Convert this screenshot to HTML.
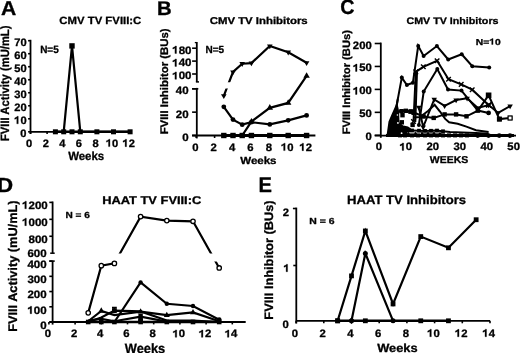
<!DOCTYPE html>
<html><head><meta charset="utf-8"><style>
html,body{margin:0;padding:0;background:#fff;overflow:hidden;}
svg{display:block;filter:grayscale(1);}
text{font-family:"Liberation Sans",sans-serif;font-weight:bold;fill:#000;stroke:#000;stroke-width:0.3px;stroke-linejoin:round;text-rendering:geometricPrecision;}
.h{fill-opacity:0;stroke-opacity:0;}
.one{fill:#000;stroke:#000;stroke-width:0.3px;stroke-linejoin:round;vector-effect:non-scaling-stroke;}
</style></head><body>
<svg width="520" height="353" viewBox="0 0 520 353" stroke="#000" stroke-linecap="butt">
<rect width="520" height="353" fill="#fff" stroke="none"/>
<text transform="translate(0.91,14.70) scale(1.051,1)" font-size="20.12">A</text>
<text transform="translate(59.35,24.10) scale(1.084,1)" font-size="10.47">CMV TV FVIII:C</text>
<text transform="translate(40.13,53.00) scale(0.952,1)" font-size="10.47">N=5</text>
<line x1="30.50" y1="39.80" x2="30.50" y2="134.00" stroke-width="1.8"/>
<line x1="30.50" y1="131.80" x2="132.00" y2="131.80" stroke-width="1.8"/>
<line x1="28.10" y1="131.80" x2="30.50" y2="131.80" stroke-width="1.6"/>
<text transform="translate(20.37,136.81) scale(1.030,1)" font-size="10.80">0</text>
<line x1="28.10" y1="118.79" x2="30.50" y2="118.79" stroke-width="1.6"/>
<g transform="translate(14.18,123.80) scale(1.030,1)"><text font-size="10.80"><tspan class="h">1</tspan>0</text><path d="M754,0L479,0L479,1050C380,960 250,890 98,845L98,1095C300,1160 480,1290 560,1409L754,1409Z" transform="translate(0.00,0) scale(0.00527,-0.00527)" class="one"/></g>
<line x1="28.10" y1="105.77" x2="30.50" y2="105.77" stroke-width="1.6"/>
<text transform="translate(14.20,110.78) scale(1.030,1)" font-size="10.80">20</text>
<line x1="28.10" y1="92.76" x2="30.50" y2="92.76" stroke-width="1.6"/>
<text transform="translate(14.20,97.76) scale(1.030,1)" font-size="10.80">30</text>
<line x1="28.10" y1="79.74" x2="30.50" y2="79.74" stroke-width="1.6"/>
<text transform="translate(14.20,84.76) scale(1.030,1)" font-size="10.80">40</text>
<line x1="28.10" y1="66.73" x2="30.50" y2="66.73" stroke-width="1.6"/>
<text transform="translate(14.20,71.74) scale(1.030,1)" font-size="10.80">50</text>
<line x1="28.10" y1="53.71" x2="30.50" y2="53.71" stroke-width="1.6"/>
<text transform="translate(14.20,58.73) scale(1.030,1)" font-size="10.80">60</text>
<line x1="28.10" y1="40.70" x2="30.50" y2="40.70" stroke-width="1.6"/>
<text transform="translate(14.20,45.71) scale(1.030,1)" font-size="10.80">70</text>
<line x1="30.50" y1="131.80" x2="30.50" y2="134.00" stroke-width="1.6"/>
<text transform="translate(26.01,146.61) scale(1.030,1)" font-size="10.80">0</text>
<line x1="47.10" y1="131.80" x2="47.10" y2="134.00" stroke-width="1.6"/>
<text transform="translate(42.64,146.67) scale(1.030,1)" font-size="10.80">2</text>
<line x1="63.70" y1="131.80" x2="63.70" y2="134.00" stroke-width="1.6"/>
<text transform="translate(59.16,146.61) scale(1.030,1)" font-size="10.80">4</text>
<line x1="80.30" y1="131.80" x2="80.30" y2="134.00" stroke-width="1.6"/>
<text transform="translate(75.80,146.61) scale(1.030,1)" font-size="10.80">6</text>
<line x1="96.90" y1="131.80" x2="96.90" y2="134.00" stroke-width="1.6"/>
<text transform="translate(92.40,146.61) scale(1.030,1)" font-size="10.80">8</text>
<line x1="113.50" y1="131.80" x2="113.50" y2="134.00" stroke-width="1.6"/>
<g transform="translate(105.88,146.61) scale(1.030,1)"><text font-size="10.80"><tspan class="h">1</tspan>0</text><path d="M754,0L479,0L479,1050C380,960 250,890 98,845L98,1095C300,1160 480,1290 560,1409L754,1409Z" transform="translate(0.00,0) scale(0.00527,-0.00527)" class="one"/></g>
<line x1="130.10" y1="131.80" x2="130.10" y2="134.00" stroke-width="1.6"/>
<g transform="translate(122.48,146.67) scale(1.030,1)"><text font-size="10.80"><tspan class="h">1</tspan>2</text><path d="M754,0L479,0L479,1050C380,960 250,890 98,845L98,1095C300,1160 480,1290 560,1409L754,1409Z" transform="translate(0.00,0) scale(0.00527,-0.00527)" class="one"/></g>
<text transform="translate(68.17,160.40) scale(0.964,1)" font-size="11.86">Weeks</text>
<text transform="translate(9.00,141.06) rotate(-90) scale(0.930,1)" font-size="12.07">FVIII Activity (mU/mL)</text>
<polyline points="55.40,131.80 63.70,131.80 72.00,45.91 80.30,131.80 96.90,131.80 113.50,131.80 130.10,131.80" fill="none" stroke-width="2.2"/>
<polyline points="55.40,131.80 130.10,131.80" fill="none" stroke-width="2.4"/>
<rect x="52.90" y="129.30" width="5.00" height="5.00" fill="#000" stroke="none"/>
<rect x="61.20" y="129.30" width="5.00" height="5.00" fill="#000" stroke="none"/>
<rect x="69.50" y="129.30" width="5.00" height="5.00" fill="#000" stroke="none"/>
<rect x="77.80" y="129.30" width="5.00" height="5.00" fill="#000" stroke="none"/>
<rect x="94.40" y="129.30" width="5.00" height="5.00" fill="#000" stroke="none"/>
<rect x="111.00" y="129.30" width="5.00" height="5.00" fill="#000" stroke="none"/>
<rect x="127.60" y="129.30" width="5.00" height="5.00" fill="#000" stroke="none"/>
<rect x="69.30" y="43.21" width="5.40" height="5.40" fill="#000" stroke="none"/>
<text transform="translate(157.03,14.70) scale(1.031,1)" font-size="19.71">B</text>
<text transform="translate(209.74,24.10) scale(1.146,1)" font-size="9.93">CMV TV Inhibitors</text>
<text transform="translate(205.43,53.40) scale(0.966,1)" font-size="10.33">N=5</text>
<line x1="196.80" y1="42.00" x2="196.80" y2="82.00" stroke-width="1.8"/>
<line x1="195.90" y1="81.90" x2="199.00" y2="81.90" stroke-width="1.5"/>
<line x1="194.80" y1="42.60" x2="196.80" y2="42.60" stroke-width="1.3"/>
<line x1="196.80" y1="87.90" x2="196.80" y2="138.40" stroke-width="1.8"/>
<line x1="192.10" y1="88.80" x2="198.30" y2="88.80" stroke-width="1.6"/>
<line x1="192.10" y1="135.50" x2="315.40" y2="135.50" stroke-width="1.8"/>
<line x1="192.10" y1="48.20" x2="196.80" y2="48.20" stroke-width="1.6"/>
<g transform="translate(172.23,53.51) scale(1.068,1)"><text font-size="10.80"><tspan class="h">1</tspan>80</text><path d="M754,0L479,0L479,1050C380,960 250,890 98,845L98,1095C300,1160 480,1290 560,1409L754,1409Z" transform="translate(0.00,0) scale(0.00527,-0.00527)" class="one"/></g>
<line x1="192.10" y1="61.10" x2="196.80" y2="61.10" stroke-width="1.6"/>
<g transform="translate(172.23,66.41) scale(1.068,1)"><text font-size="10.80"><tspan class="h">1</tspan>40</text><path d="M754,0L479,0L479,1050C380,960 250,890 98,845L98,1095C300,1160 480,1290 560,1409L754,1409Z" transform="translate(0.00,0) scale(0.00527,-0.00527)" class="one"/></g>
<line x1="192.10" y1="74.00" x2="196.80" y2="74.00" stroke-width="1.6"/>
<g transform="translate(172.23,79.31) scale(1.068,1)"><text font-size="10.80"><tspan class="h">1</tspan>00</text><path d="M754,0L479,0L479,1050C380,960 250,890 98,845L98,1095C300,1160 480,1290 560,1409L754,1409Z" transform="translate(0.00,0) scale(0.00527,-0.00527)" class="one"/></g>
<line x1="192.10" y1="88.80" x2="196.80" y2="88.80" stroke-width="1.6"/>
<text transform="translate(175.76,94.31) scale(1.068,1)" font-size="10.80">40</text>
<line x1="192.10" y1="112.15" x2="196.80" y2="112.15" stroke-width="1.6"/>
<text transform="translate(175.76,117.66) scale(1.068,1)" font-size="10.80">20</text>
<line x1="192.10" y1="135.50" x2="196.80" y2="135.50" stroke-width="1.6"/>
<text transform="translate(182.16,141.01) scale(1.068,1)" font-size="10.80">0</text>
<line x1="196.20" y1="135.50" x2="196.20" y2="138.00" stroke-width="1.6"/>
<text transform="translate(192.16,150.61) scale(1.049,1)" font-size="10.80">0</text>
<line x1="214.60" y1="135.50" x2="214.60" y2="138.00" stroke-width="1.6"/>
<text transform="translate(210.58,150.67) scale(1.049,1)" font-size="10.80">2</text>
<line x1="233.00" y1="135.50" x2="233.00" y2="138.00" stroke-width="1.6"/>
<text transform="translate(228.90,150.61) scale(1.049,1)" font-size="10.80">4</text>
<line x1="251.40" y1="135.50" x2="251.40" y2="138.00" stroke-width="1.6"/>
<text transform="translate(247.34,150.61) scale(1.049,1)" font-size="10.80">6</text>
<line x1="269.80" y1="135.50" x2="269.80" y2="138.00" stroke-width="1.6"/>
<text transform="translate(265.74,150.61) scale(1.049,1)" font-size="10.80">8</text>
<line x1="288.20" y1="135.50" x2="288.20" y2="138.00" stroke-width="1.6"/>
<g transform="translate(280.96,150.61) scale(1.049,1)"><text font-size="10.80"><tspan class="h">1</tspan>0</text><path d="M754,0L479,0L479,1050C380,960 250,890 98,845L98,1095C300,1160 480,1290 560,1409L754,1409Z" transform="translate(0.00,0) scale(0.00527,-0.00527)" class="one"/></g>
<line x1="306.60" y1="135.50" x2="306.60" y2="138.00" stroke-width="1.6"/>
<g transform="translate(299.36,150.67) scale(1.049,1)"><text font-size="10.80"><tspan class="h">1</tspan>2</text><path d="M754,0L479,0L479,1050C380,960 250,890 98,845L98,1095C300,1160 480,1290 560,1409L754,1409Z" transform="translate(0.00,0) scale(0.00527,-0.00527)" class="one"/></g>
<text transform="translate(240.22,163.50) scale(1.115,1)" font-size="10.34">Weeks</text>
<text transform="translate(168.20,134.37) rotate(-90) scale(1.028,1)" font-size="11.05">FVIII Inhibitor (BUs)</text>
<clipPath id="gapB"><rect x="199" y="0" width="130" height="82.3"/><rect x="199" y="88.6" width="130" height="80"/></clipPath>
<polyline points="223.80,95.80 233.00,72.00 242.20,63.70 251.40,63.10 269.80,46.00 288.20,52.20 306.60,62.80" fill="none" stroke-width="2.2" clip-path="url(#gapB)"/>
<polygon points="221.00,94.18 226.60,94.18 223.80,99.05" fill="#000" stroke="none"/>
<polygon points="230.20,70.38 235.80,70.38 233.00,75.25" fill="#000" stroke="none"/>
<polygon points="239.40,62.08 245.00,62.08 242.20,66.95" fill="#000" stroke="none"/>
<polygon points="248.60,61.48 254.20,61.48 251.40,66.35" fill="#000" stroke="none"/>
<polygon points="267.00,44.38 272.60,44.38 269.80,49.25" fill="#000" stroke="none"/>
<polygon points="285.40,50.58 291.00,50.58 288.20,55.45" fill="#000" stroke="none"/>
<polygon points="303.80,61.18 309.40,61.18 306.60,66.05" fill="#000" stroke="none"/>
<polyline points="223.80,135.50 233.00,135.50 242.20,135.50 251.40,121.61 269.80,107.83 288.20,102.93 306.60,75.96" fill="none" stroke-width="2.2"/>
<polygon points="248.20,123.46 254.60,123.46 251.40,117.89" fill="#000" stroke="none"/>
<polygon points="266.60,109.69 273.00,109.69 269.80,104.12" fill="#000" stroke="none"/>
<polygon points="285.00,104.78 291.40,104.78 288.20,99.21" fill="#000" stroke="none"/>
<polygon points="303.40,77.81 309.80,77.81 306.60,72.25" fill="#000" stroke="none"/>
<polyline points="223.80,106.78 233.00,119.62 242.20,124.64 251.40,122.19 269.80,124.41 288.20,120.32 306.60,115.42" fill="none" stroke-width="2.2"/>
<circle cx="223.80" cy="106.78" r="2.40" fill="#000" stroke="none"/>
<circle cx="233.00" cy="119.62" r="2.40" fill="#000" stroke="none"/>
<circle cx="242.20" cy="124.64" r="2.40" fill="#000" stroke="none"/>
<circle cx="251.40" cy="122.19" r="2.40" fill="#000" stroke="none"/>
<circle cx="269.80" cy="124.41" r="2.40" fill="#000" stroke="none"/>
<circle cx="288.20" cy="120.32" r="2.40" fill="#000" stroke="none"/>
<circle cx="306.60" cy="115.42" r="2.40" fill="#000" stroke="none"/>
<polyline points="223.80,135.50 306.60,135.50" fill="none" stroke-width="3.0"/>
<rect x="221.10" y="132.80" width="5.40" height="5.40" fill="#000" stroke="none"/>
<rect x="230.30" y="132.80" width="5.40" height="5.40" fill="#000" stroke="none"/>
<rect x="239.50" y="132.80" width="5.40" height="5.40" fill="#000" stroke="none"/>
<rect x="248.70" y="132.80" width="5.40" height="5.40" fill="#000" stroke="none"/>
<rect x="267.10" y="132.80" width="5.40" height="5.40" fill="#000" stroke="none"/>
<rect x="285.50" y="132.80" width="5.40" height="5.40" fill="#000" stroke="none"/>
<rect x="303.90" y="132.80" width="5.40" height="5.40" fill="#000" stroke="none"/>
<text transform="translate(340.31,14.40) scale(0.954,1)" font-size="20.65">C</text>
<text transform="translate(406.47,23.80) scale(1.123,1)" font-size="9.52">CMV TV Inhibitors</text>
<g transform="translate(475.80,44.50) scale(1.198,1)"><text font-size="8.60">N=<tspan class="h">1</tspan>0</text><path d="M754,0L479,0L479,1050C380,960 250,890 98,845L98,1095C300,1160 480,1290 560,1409L754,1409Z" transform="translate(11.24,0) scale(0.00420,-0.00420)" class="one"/></g>
<line x1="380.80" y1="42.60" x2="380.80" y2="137.80" stroke-width="1.8"/>
<line x1="374.70" y1="135.60" x2="516.00" y2="135.60" stroke-width="1.8"/>
<line x1="374.70" y1="135.30" x2="380.80" y2="135.30" stroke-width="1.6"/>
<text transform="translate(365.47,140.31) scale(1.049,1)" font-size="10.80">0</text>
<line x1="374.70" y1="112.35" x2="380.80" y2="112.35" stroke-width="1.6"/>
<text transform="translate(359.18,117.36) scale(1.049,1)" font-size="10.80">50</text>
<line x1="374.70" y1="89.40" x2="380.80" y2="89.40" stroke-width="1.6"/>
<g transform="translate(352.86,94.41) scale(1.049,1)"><text font-size="10.80"><tspan class="h">1</tspan>00</text><path d="M754,0L479,0L479,1050C380,960 250,890 98,845L98,1095C300,1160 480,1290 560,1409L754,1409Z" transform="translate(0.00,0) scale(0.00527,-0.00527)" class="one"/></g>
<line x1="374.70" y1="66.45" x2="380.80" y2="66.45" stroke-width="1.6"/>
<g transform="translate(352.86,71.46) scale(1.049,1)"><text font-size="10.80"><tspan class="h">1</tspan>50</text><path d="M754,0L479,0L479,1050C380,960 250,890 98,845L98,1095C300,1160 480,1290 560,1409L754,1409Z" transform="translate(0.00,0) scale(0.00527,-0.00527)" class="one"/></g>
<line x1="374.70" y1="43.50" x2="380.80" y2="43.50" stroke-width="1.6"/>
<text transform="translate(352.86,48.51) scale(1.049,1)" font-size="10.80">200</text>
<text transform="translate(375.76,150.41) scale(1.049,1)" font-size="10.80">0</text>
<g transform="translate(399.50,150.41) scale(1.049,1)"><text font-size="10.80"><tspan class="h">1</tspan>0</text><path d="M754,0L479,0L479,1050C380,960 250,890 98,845L98,1095C300,1160 480,1290 560,1409L754,1409Z" transform="translate(0.00,0) scale(0.00527,-0.00527)" class="one"/></g>
<text transform="translate(426.52,150.41) scale(1.049,1)" font-size="10.80">20</text>
<text transform="translate(453.53,150.40) scale(1.049,1)" font-size="10.80">30</text>
<text transform="translate(480.51,150.41) scale(1.049,1)" font-size="10.80">40</text>
<text transform="translate(507.35,150.41) scale(1.049,1)" font-size="10.80">50</text>
<text transform="translate(429.77,162.70) scale(1.062,1)" font-size="9.89">WEEKS</text>
<text transform="translate(350.40,134.36) rotate(-90) scale(1.039,1)" font-size="10.76">FVIII Inhibitor (BUs)</text>
<polyline points="395.30,112.60 401.80,77.60 406.90,85.00 412.90,82.70 418.20,45.90 423.60,56.00 436.90,46.00 448.20,59.50 461.70,54.30 472.30,66.20 489.20,67.40" fill="none" stroke-width="2.0"/>
<circle cx="395.30" cy="112.60" r="2.00" fill="#000" stroke="none"/>
<circle cx="401.80" cy="77.60" r="2.00" fill="#000" stroke="none"/>
<circle cx="406.90" cy="85.00" r="2.00" fill="#000" stroke="none"/>
<circle cx="412.90" cy="82.70" r="2.00" fill="#000" stroke="none"/>
<circle cx="418.20" cy="45.90" r="2.00" fill="#000" stroke="none"/>
<circle cx="423.60" cy="56.00" r="2.00" fill="#000" stroke="none"/>
<circle cx="436.90" cy="46.00" r="2.00" fill="#000" stroke="none"/>
<circle cx="448.20" cy="59.50" r="2.00" fill="#000" stroke="none"/>
<circle cx="461.70" cy="54.30" r="2.00" fill="#000" stroke="none"/>
<circle cx="472.30" cy="66.20" r="2.00" fill="#000" stroke="none"/>
<circle cx="489.20" cy="67.40" r="2.00" fill="#000" stroke="none"/>
<polyline points="413.50,121.50 415.80,71.90 423.30,66.80 437.10,60.80 448.50,79.30 461.20,84.40 472.20,89.70 488.60,105.00" fill="none" stroke-width="2.0"/>
<path d="M411.20,119.20L415.80,123.80M415.80,119.20L411.20,123.80" stroke-width="1.4" fill="none"/>
<path d="M413.50,69.60L418.10,74.20M418.10,69.60L413.50,74.20" stroke-width="1.4" fill="none"/>
<path d="M421.00,64.50L425.60,69.10M425.60,64.50L421.00,69.10" stroke-width="1.4" fill="none"/>
<path d="M434.80,58.50L439.40,63.10M439.40,58.50L434.80,63.10" stroke-width="1.4" fill="none"/>
<path d="M446.20,77.00L450.80,81.60M450.80,77.00L446.20,81.60" stroke-width="1.4" fill="none"/>
<path d="M458.90,82.10L463.50,86.70M463.50,82.10L458.90,86.70" stroke-width="1.4" fill="none"/>
<path d="M469.90,87.40L474.50,92.00M474.50,87.40L469.90,92.00" stroke-width="1.4" fill="none"/>
<path d="M486.30,102.70L490.90,107.30M490.90,102.70L486.30,107.30" stroke-width="1.4" fill="none"/>
<polyline points="415.30,122.00 417.00,71.90" fill="none" stroke-width="2.0"/>
<polyline points="418.90,125.00 423.70,91.50 437.30,69.00 448.00,89.50 461.50,90.60 477.90,110.60 488.60,112.90" fill="none" stroke-width="2.0"/>
<circle cx="418.90" cy="125.00" r="2.00" fill="#000" stroke="none"/>
<circle cx="423.70" cy="91.50" r="2.00" fill="#000" stroke="none"/>
<circle cx="437.30" cy="69.00" r="2.00" fill="#000" stroke="none"/>
<circle cx="448.00" cy="89.50" r="2.00" fill="#000" stroke="none"/>
<circle cx="461.50" cy="90.60" r="2.00" fill="#000" stroke="none"/>
<circle cx="477.90" cy="110.60" r="2.00" fill="#000" stroke="none"/>
<circle cx="488.60" cy="112.90" r="2.00" fill="#000" stroke="none"/>
<polyline points="411.30,111.50 423.60,116.50 433.70,117.90 444.60,114.40 456.10,114.40 466.50,116.30 477.90,110.60 488.60,95.30 499.40,119.10 510.10,118.00" fill="none" stroke-width="2.0"/>
<rect x="409.10" y="109.30" width="4.40" height="4.40" fill="#000" stroke="none"/>
<rect x="421.40" y="114.30" width="4.40" height="4.40" fill="#000" stroke="none"/>
<rect x="431.50" y="115.70" width="4.40" height="4.40" fill="#000" stroke="none"/>
<rect x="442.40" y="112.20" width="4.40" height="4.40" fill="#000" stroke="none"/>
<rect x="453.90" y="112.20" width="4.40" height="4.40" fill="#000" stroke="none"/>
<rect x="464.30" y="114.10" width="4.40" height="4.40" fill="#000" stroke="none"/>
<rect x="475.70" y="108.40" width="4.40" height="4.40" fill="#000" stroke="none"/>
<rect x="486.40" y="93.10" width="4.40" height="4.40" fill="#000" stroke="none"/>
<rect x="497.20" y="116.90" width="4.40" height="4.40" fill="#000" stroke="none"/>
<rect x="507.90" y="115.80" width="4.40" height="4.40" fill="#000" stroke="none"/>
<polyline points="418.80,107.40 423.20,127.00 434.20,99.40 444.60,105.80 456.10,100.00 467.10,98.30 477.90,108.00 488.60,105.00 498.20,112.90 510.10,106.10" fill="none" stroke-width="2.0"/>
<polygon points="416.05,105.81 421.55,105.81 418.80,110.59" fill="#000" stroke="none"/>
<polygon points="420.45,125.41 425.95,125.41 423.20,130.19" fill="#000" stroke="none"/>
<polygon points="431.45,97.81 436.95,97.81 434.20,102.59" fill="#000" stroke="none"/>
<polygon points="441.85,104.20 447.35,104.20 444.60,108.99" fill="#000" stroke="none"/>
<polygon points="453.35,98.41 458.85,98.41 456.10,103.19" fill="#000" stroke="none"/>
<polygon points="464.35,96.70 469.85,96.70 467.10,101.49" fill="#000" stroke="none"/>
<polygon points="475.15,106.41 480.65,106.41 477.90,111.19" fill="#000" stroke="none"/>
<polygon points="485.85,103.41 491.35,103.41 488.60,108.19" fill="#000" stroke="none"/>
<polygon points="495.45,111.31 500.95,111.31 498.20,116.09" fill="#000" stroke="none"/>
<polygon points="507.35,104.50 512.85,104.50 510.10,109.29" fill="#000" stroke="none"/>
<polyline points="414.00,117.50 420.00,117.00 428.00,111.00 434.60,104.80 440.00,111.50 445.20,118.90 449.10,122.30 457.70,123.70 466.40,126.60 476.00,130.20 488.60,132.00" fill="none" stroke-width="2.0"/>
<polyline points="398.00,130.40 412.00,130.50 425.00,130.90 436.00,130.60 450.00,131.90 462.00,132.40 476.00,132.90 488.60,133.80" fill="none" stroke-width="2.0"/>
<polyline points="386.00,135.40 514.00,135.40" fill="none" stroke-width="3.0"/>
<rect x="398.00" y="133.40" width="4.00" height="4.00" fill="#000" stroke="none"/>
<rect x="403.00" y="133.40" width="4.00" height="4.00" fill="#000" stroke="none"/>
<rect x="410.00" y="133.40" width="4.00" height="4.00" fill="#000" stroke="none"/>
<rect x="416.00" y="133.40" width="4.00" height="4.00" fill="#000" stroke="none"/>
<rect x="423.00" y="133.40" width="4.00" height="4.00" fill="#000" stroke="none"/>
<rect x="429.00" y="133.40" width="4.00" height="4.00" fill="#000" stroke="none"/>
<rect x="435.00" y="133.40" width="4.00" height="4.00" fill="#000" stroke="none"/>
<rect x="441.00" y="133.40" width="4.00" height="4.00" fill="#000" stroke="none"/>
<rect x="447.00" y="133.40" width="4.00" height="4.00" fill="#000" stroke="none"/>
<rect x="453.00" y="133.40" width="4.00" height="4.00" fill="#000" stroke="none"/>
<rect x="459.00" y="133.40" width="4.00" height="4.00" fill="#000" stroke="none"/>
<rect x="465.00" y="133.40" width="4.00" height="4.00" fill="#000" stroke="none"/>
<circle cx="477.70" cy="135.60" r="2.30" fill="#000" stroke="none"/>
<circle cx="488.50" cy="135.60" r="2.30" fill="#000" stroke="none"/>
<circle cx="499.20" cy="135.60" r="2.30" fill="#000" stroke="none"/>
<circle cx="510.00" cy="135.60" r="2.30" fill="#000" stroke="none"/>
<rect x="403.10" y="128.60" width="3.80" height="3.80" fill="#000" stroke="none"/>
<rect x="410.10" y="128.60" width="3.80" height="3.80" fill="#000" stroke="none"/>
<rect x="417.10" y="128.80" width="3.80" height="3.80" fill="#000" stroke="none"/>
<rect x="423.10" y="129.00" width="3.80" height="3.80" fill="#000" stroke="none"/>
<rect x="429.10" y="128.90" width="3.80" height="3.80" fill="#000" stroke="none"/>
<rect x="435.10" y="128.70" width="3.80" height="3.80" fill="#000" stroke="none"/>
<rect x="441.10" y="129.40" width="3.80" height="3.80" fill="#000" stroke="none"/>
<circle cx="408.50" cy="133.20" r="1.30" fill="#000" stroke="none"/>
<circle cx="415.50" cy="133.20" r="1.30" fill="#000" stroke="none"/>
<circle cx="422.00" cy="133.40" r="1.30" fill="#000" stroke="none"/>
<circle cx="428.00" cy="133.40" r="1.30" fill="#000" stroke="none"/>
<circle cx="434.00" cy="133.30" r="1.30" fill="#000" stroke="none"/>
<circle cx="440.00" cy="133.60" r="1.30" fill="#000" stroke="none"/>
<polygon points="403.5,125.5 408,126.5 411,128.5 411,132 403.5,132" fill="#000" stroke="none"/>
<rect x="496.90" y="116.60" width="5.00" height="5.00" fill="#000" stroke="none"/>
<rect x="508.10" y="116.00" width="4.00" height="4.00" fill="#fff" stroke-width="1.2"/>
<rect x="485.80" y="92.50" width="5.60" height="5.60" fill="#000" stroke="none"/>
<circle cx="488.60" cy="112.90" r="2.30" fill="#000" stroke="none"/>
<path d="M486.00,102.40L491.20,107.60M491.20,102.40L486.00,107.60" stroke-width="1.4" fill="none"/>
<polygon points="386.3,137 388.5,121.5 391.7,114 394.4,108 396,104.3 397.6,104.3 398.8,109.5 399.2,114 399.5,122.4 403.5,125.8 407,128.5 408,137" fill="#000" stroke="none"/>
<line x1="396.8" y1="105" x2="397.8" y2="99" stroke-width="2"/>
<polyline points="398.50,111.50 405.50,110.50 410.50,111.80 414.50,112.50" fill="none" stroke-width="2.4"/>
<rect x="399.30" y="109.00" width="4.40" height="4.40" fill="#000" stroke="none"/>
<rect x="403.60" y="108.60" width="4.40" height="4.40" fill="#000" stroke="none"/>
<rect x="408.20" y="109.40" width="4.40" height="4.40" fill="#000" stroke="none"/>
<rect x="411.40" y="110.60" width="4.40" height="4.40" fill="#000" stroke="none"/>
<rect x="400.30" y="113.00" width="4.40" height="4.40" fill="#000" stroke="none"/>
<rect x="399.60" y="120.10" width="4.40" height="4.40" fill="#000" stroke="none"/>
<rect x="410.40" y="122.70" width="4.40" height="4.40" fill="#000" stroke="none"/>
<circle cx="397.4" cy="115" r="0.8" fill="#fff" stroke="none"/>
<circle cx="397.9" cy="122.9" r="0.9" fill="#fff" stroke="none"/>
<circle cx="401.6" cy="133.2" r="0.9" fill="#fff" stroke="none"/>
<text transform="translate(-3.11,191.70) scale(1.091,1)" font-size="20.51">D</text>
<text transform="translate(102.13,203.70) scale(1.152,1)" font-size="11.18">HAAT TV FVIII:C</text>
<text transform="translate(65.52,217.70) scale(1.137,1)" font-size="8.89">N = 6</text>
<line x1="52.60" y1="201.50" x2="52.60" y2="253.20" stroke-width="1.8"/>
<line x1="50.20" y1="253.20" x2="54.70" y2="253.20" stroke-width="1.5"/>
<line x1="52.60" y1="261.10" x2="52.60" y2="324.60" stroke-width="1.8"/>
<line x1="49.30" y1="261.10" x2="54.70" y2="261.10" stroke-width="1.6"/>
<line x1="49.30" y1="322.00" x2="245.70" y2="322.00" stroke-width="1.8"/>
<line x1="49.30" y1="202.40" x2="52.60" y2="202.40" stroke-width="1.6"/>
<g transform="translate(22.11,208.71) scale(1.068,1)"><text font-size="10.80"><tspan class="h">1</tspan>200</text><path d="M754,0L479,0L479,1050C380,960 250,890 98,845L98,1095C300,1160 480,1290 560,1409L754,1409Z" transform="translate(0.00,0) scale(0.00527,-0.00527)" class="one"/></g>
<line x1="49.30" y1="219.33" x2="52.60" y2="219.33" stroke-width="1.6"/>
<g transform="translate(22.11,225.65) scale(1.068,1)"><text font-size="10.80"><tspan class="h">1</tspan>000</text><path d="M754,0L479,0L479,1050C380,960 250,890 98,845L98,1095C300,1160 480,1290 560,1409L754,1409Z" transform="translate(0.00,0) scale(0.00527,-0.00527)" class="one"/></g>
<line x1="49.30" y1="236.27" x2="52.60" y2="236.27" stroke-width="1.6"/>
<text transform="translate(28.53,242.58) scale(1.068,1)" font-size="10.80">800</text>
<text transform="translate(27.43,257.41) scale(1.068,1)" font-size="10.80">600</text>
<line x1="49.30" y1="261.10" x2="52.60" y2="261.10" stroke-width="1.6"/>
<text transform="translate(27.43,268.01) scale(1.068,1)" font-size="10.80">400</text>
<line x1="49.30" y1="276.33" x2="52.60" y2="276.33" stroke-width="1.6"/>
<text transform="translate(27.43,283.22) scale(1.068,1)" font-size="10.80">300</text>
<line x1="49.30" y1="291.55" x2="52.60" y2="291.55" stroke-width="1.6"/>
<text transform="translate(27.43,298.46) scale(1.068,1)" font-size="10.80">200</text>
<line x1="49.30" y1="306.77" x2="52.60" y2="306.77" stroke-width="1.6"/>
<g transform="translate(27.43,313.69) scale(1.068,1)"><text font-size="10.80"><tspan class="h">1</tspan>00</text><path d="M754,0L479,0L479,1050C380,960 250,890 98,845L98,1095C300,1160 480,1290 560,1409L754,1409Z" transform="translate(0.00,0) scale(0.00527,-0.00527)" class="one"/></g>
<line x1="49.30" y1="322.00" x2="52.60" y2="322.00" stroke-width="1.6"/>
<text transform="translate(40.26,328.91) scale(1.068,1)" font-size="10.80">0</text>
<line x1="48.90" y1="322.00" x2="48.90" y2="324.40" stroke-width="1.6"/>
<text transform="translate(44.76,337.31) scale(1.049,1)" font-size="10.80">0</text>
<line x1="75.10" y1="322.00" x2="75.10" y2="324.40" stroke-width="1.6"/>
<text transform="translate(70.98,337.37) scale(1.049,1)" font-size="10.80">2</text>
<line x1="101.30" y1="322.00" x2="101.30" y2="324.40" stroke-width="1.6"/>
<text transform="translate(97.10,337.31) scale(1.049,1)" font-size="10.80">4</text>
<line x1="127.50" y1="322.00" x2="127.50" y2="324.40" stroke-width="1.6"/>
<text transform="translate(123.34,337.31) scale(1.049,1)" font-size="10.80">6</text>
<line x1="153.70" y1="322.00" x2="153.70" y2="324.40" stroke-width="1.6"/>
<text transform="translate(149.54,337.31) scale(1.049,1)" font-size="10.80">8</text>
<line x1="179.90" y1="322.00" x2="179.90" y2="324.40" stroke-width="1.6"/>
<g transform="translate(172.56,337.31) scale(1.049,1)"><text font-size="10.80"><tspan class="h">1</tspan>0</text><path d="M754,0L479,0L479,1050C380,960 250,890 98,845L98,1095C300,1160 480,1290 560,1409L754,1409Z" transform="translate(0.00,0) scale(0.00527,-0.00527)" class="one"/></g>
<line x1="206.10" y1="322.00" x2="206.10" y2="324.40" stroke-width="1.6"/>
<g transform="translate(198.76,337.37) scale(1.049,1)"><text font-size="10.80"><tspan class="h">1</tspan>2</text><path d="M754,0L479,0L479,1050C380,960 250,890 98,845L98,1095C300,1160 480,1290 560,1409L754,1409Z" transform="translate(0.00,0) scale(0.00527,-0.00527)" class="one"/></g>
<line x1="232.30" y1="322.00" x2="232.30" y2="324.40" stroke-width="1.6"/>
<g transform="translate(224.76,337.32) scale(1.049,1)"><text font-size="10.80"><tspan class="h">1</tspan>4</text><path d="M754,0L479,0L479,1050C380,960 250,890 98,845L98,1095C300,1160 480,1290 560,1409L754,1409Z" transform="translate(0.00,0) scale(0.00527,-0.00527)" class="one"/></g>
<text transform="translate(124.77,352.60) scale(0.950,1)" font-size="13.52">Weeks</text>
<text transform="translate(16.60,331.86) rotate(-90) scale(1.021,1)" font-size="12.51">FVIII Activity (mU/mL)</text>
<clipPath id="gapD"><rect x="55" y="190" width="190" height="63.4"/><rect x="55" y="261.4" width="190" height="80"/></clipPath>
<polyline points="88.20,312.87 101.30,265.67 114.40,263.38 140.60,216.62 166.80,220.60 193.00,221.28 219.20,267.95" fill="none" stroke-width="2.2" clip-path="url(#gapD)"/>
<polyline points="88.20,322.00 101.30,322.00 114.40,322.00 140.60,282.42 166.80,303.73 193.00,306.01 219.20,319.72" fill="none" stroke-width="2.2"/>
<polyline points="88.20,321.24 101.30,310.89 114.40,315.15 140.60,311.65 166.80,315.15 193.00,312.41 219.20,321.24" fill="none" stroke-width="2.2"/>
<polyline points="88.20,322.00 101.30,317.43 114.40,310.58 140.60,311.34 166.80,320.48 193.00,320.48 219.20,322.00" fill="none" stroke-width="2.2"/>
<polyline points="88.20,320.48 101.30,318.95 114.40,321.24 140.60,316.67 166.80,321.70 193.00,321.70 219.20,322.00" fill="none" stroke-width="2.2"/>
<polyline points="88.20,322.00 219.20,322.00" fill="none" stroke-width="2.6"/>
<rect x="85.90" y="319.70" width="4.60" height="4.60" fill="#000" stroke="none"/>
<rect x="99.00" y="319.70" width="4.60" height="4.60" fill="#000" stroke="none"/>
<rect x="112.10" y="319.70" width="4.60" height="4.60" fill="#000" stroke="none"/>
<rect x="138.30" y="319.70" width="4.60" height="4.60" fill="#000" stroke="none"/>
<rect x="164.50" y="319.70" width="4.60" height="4.60" fill="#000" stroke="none"/>
<rect x="190.70" y="319.70" width="4.60" height="4.60" fill="#000" stroke="none"/>
<rect x="216.90" y="319.70" width="4.60" height="4.60" fill="#000" stroke="none"/>
<circle cx="140.60" cy="282.42" r="2.20" fill="#000" stroke="none"/>
<circle cx="166.80" cy="303.73" r="2.20" fill="#000" stroke="none"/>
<circle cx="193.00" cy="306.01" r="2.20" fill="#000" stroke="none"/>
<circle cx="219.20" cy="319.72" r="2.40" fill="#000" stroke="none"/>
<polygon points="98.20,312.68 104.40,312.68 101.30,307.29" fill="#000" stroke="none"/>
<polygon points="163.80,316.89 169.80,316.89 166.80,311.67" fill="#000" stroke="none"/>
<polygon points="190.00,314.15 196.00,314.15 193.00,308.93" fill="#000" stroke="none"/>
<polygon points="137.60,313.39 143.60,313.39 140.60,308.17" fill="#000" stroke="none"/>
<rect x="138.40" y="313.71" width="4.40" height="4.40" fill="#000" stroke="none"/>
<rect x="138.40" y="316.45" width="4.40" height="4.40" fill="#000" stroke="none"/>
<rect x="138.40" y="318.28" width="4.40" height="4.40" fill="#000" stroke="none"/>
<rect x="112.00" y="308.18" width="4.80" height="4.80" fill="#000" stroke="none"/>
<line x1="114.40" y1="307.54" x2="114.40" y2="313.17" stroke-width="1.6"/>
<line x1="112.00" y1="307.54" x2="116.80" y2="307.54" stroke-width="1.6"/>
<circle cx="88.20" cy="312.87" r="2.20" fill="#fff" stroke-width="1.3"/>
<circle cx="101.30" cy="265.67" r="2.20" fill="#fff" stroke-width="1.3"/>
<circle cx="114.40" cy="263.38" r="2.20" fill="#fff" stroke-width="1.3"/>
<circle cx="140.60" cy="216.62" r="2.20" fill="#fff" stroke-width="1.3"/>
<circle cx="166.80" cy="220.60" r="2.20" fill="#fff" stroke-width="1.3"/>
<circle cx="193.00" cy="221.28" r="2.20" fill="#fff" stroke-width="1.3"/>
<circle cx="219.20" cy="267.95" r="2.20" fill="#fff" stroke-width="1.3"/>
<text transform="translate(258.44,191.80) scale(0.957,1)" font-size="21.09">E</text>
<text transform="translate(347.12,203.80) scale(1.066,1)" font-size="12.28">HAAT TV Inhibitors</text>
<text transform="translate(309.30,224.30) scale(1.190,1)" font-size="8.75">N = 6</text>
<line x1="296.30" y1="207.60" x2="296.30" y2="323.50" stroke-width="1.8"/>
<line x1="292.90" y1="208.50" x2="296.30" y2="208.50" stroke-width="1.6"/>
<line x1="293.30" y1="265.50" x2="296.30" y2="265.50" stroke-width="1.6"/>
<line x1="296.30" y1="320.80" x2="490.00" y2="320.80" stroke-width="1.8"/>
<text transform="translate(282.77,215.67) scale(1.049,1)" font-size="10.80">2</text>
<g transform="translate(283.43,271.72) scale(1.049,1)"><text font-size="10.80"><tspan class="h">1</tspan></text><path d="M754,0L479,0L479,1050C380,960 250,890 98,845L98,1095C300,1160 480,1290 560,1409L754,1409Z" transform="translate(0.00,0) scale(0.00527,-0.00527)" class="one"/></g>
<text transform="translate(282.57,327.71) scale(1.049,1)" font-size="10.80">0</text>
<line x1="296.10" y1="320.80" x2="296.10" y2="323.30" stroke-width="1.6"/>
<text transform="translate(291.86,336.71) scale(1.049,1)" font-size="10.80">0</text>
<line x1="323.80" y1="320.80" x2="323.80" y2="323.30" stroke-width="1.6"/>
<text transform="translate(319.58,336.77) scale(1.049,1)" font-size="10.80">2</text>
<line x1="351.50" y1="320.80" x2="351.50" y2="323.30" stroke-width="1.6"/>
<text transform="translate(347.20,336.71) scale(1.049,1)" font-size="10.80">4</text>
<line x1="379.20" y1="320.80" x2="379.20" y2="323.30" stroke-width="1.6"/>
<text transform="translate(374.94,336.71) scale(1.049,1)" font-size="10.80">6</text>
<line x1="406.90" y1="320.80" x2="406.90" y2="323.30" stroke-width="1.6"/>
<text transform="translate(402.64,336.71) scale(1.049,1)" font-size="10.80">8</text>
<line x1="434.60" y1="320.80" x2="434.60" y2="323.30" stroke-width="1.6"/>
<g transform="translate(427.16,336.71) scale(1.049,1)"><text font-size="10.80"><tspan class="h">1</tspan>0</text><path d="M754,0L479,0L479,1050C380,960 250,890 98,845L98,1095C300,1160 480,1290 560,1409L754,1409Z" transform="translate(0.00,0) scale(0.00527,-0.00527)" class="one"/></g>
<line x1="462.30" y1="320.80" x2="462.30" y2="323.30" stroke-width="1.6"/>
<g transform="translate(454.86,336.77) scale(1.049,1)"><text font-size="10.80"><tspan class="h">1</tspan>2</text><path d="M754,0L479,0L479,1050C380,960 250,890 98,845L98,1095C300,1160 480,1290 560,1409L754,1409Z" transform="translate(0.00,0) scale(0.00527,-0.00527)" class="one"/></g>
<line x1="490.00" y1="320.80" x2="490.00" y2="323.30" stroke-width="1.6"/>
<g transform="translate(482.36,336.72) scale(1.049,1)"><text font-size="10.80"><tspan class="h">1</tspan>4</text><path d="M754,0L479,0L479,1050C380,960 250,890 98,845L98,1095C300,1160 480,1290 560,1409L754,1409Z" transform="translate(0.00,0) scale(0.00527,-0.00527)" class="one"/></g>
<text transform="translate(377.17,351.80) scale(1.082,1)" font-size="11.86">Weeks</text>
<text transform="translate(272.60,319.66) rotate(-90) scale(1.046,1)" font-size="12.22">FVIII Inhibitor (BUs)</text>
<polyline points="337.65,320.80 351.50,275.88 365.35,230.96 393.05,303.96 420.75,236.58 448.45,247.81 476.15,219.73" fill="none" stroke-width="2.2"/>
<rect x="335.25" y="318.40" width="4.80" height="4.80" fill="#000" stroke="none"/>
<rect x="349.10" y="273.48" width="4.80" height="4.80" fill="#000" stroke="none"/>
<rect x="362.95" y="228.56" width="4.80" height="4.80" fill="#000" stroke="none"/>
<rect x="390.65" y="301.56" width="4.80" height="4.80" fill="#000" stroke="none"/>
<rect x="418.35" y="234.18" width="4.80" height="4.80" fill="#000" stroke="none"/>
<rect x="446.05" y="245.41" width="4.80" height="4.80" fill="#000" stroke="none"/>
<rect x="473.75" y="217.33" width="4.80" height="4.80" fill="#000" stroke="none"/>
<polyline points="351.50,320.80 365.35,253.42 393.05,320.80" fill="none" stroke-width="2.2"/>
<circle cx="351.50" cy="320.80" r="2.50" fill="#000" stroke="none"/>
<circle cx="365.35" cy="253.42" r="2.50" fill="#000" stroke="none"/>
<circle cx="393.05" cy="320.80" r="2.50" fill="#000" stroke="none"/>
<polyline points="337.65,320.80 448.45,320.80" fill="none" stroke-width="2.4"/>
<rect x="362.95" y="318.40" width="4.80" height="4.80" fill="#000" stroke="none"/>
<rect x="418.35" y="318.40" width="4.80" height="4.80" fill="#000" stroke="none"/>
<rect x="446.05" y="318.40" width="4.80" height="4.80" fill="#000" stroke="none"/>
<rect x="335.25" y="318.40" width="4.80" height="4.80" fill="#000" stroke="none"/>
<polygon points="351.50,317.60 354.70,320.80 351.50,324.00 348.30,320.80" fill="#000" stroke="none"/>
</svg>
</body></html>
